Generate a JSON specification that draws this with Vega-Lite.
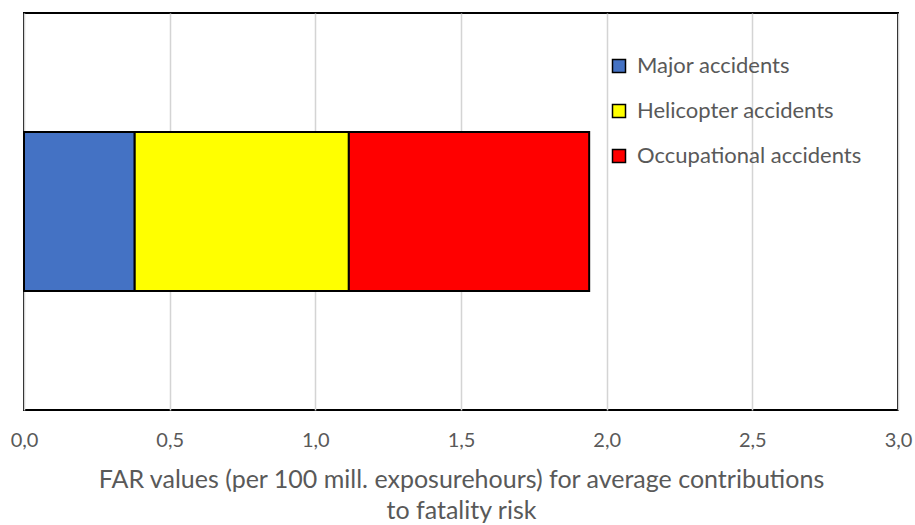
{
  "$schema": "https://vega.github.io/schema/vega-lite/v6.json",
  "width": 874,
  "height": 397,
  "autosize": "none",
  "padding": {"left": 24, "top": 13, "right": 17, "bottom": 115},
  "background": "white",
  "config": {
    "view": {"stroke": "black", "strokeWidth": 2},
    "font": "Lato"
  },
  "data": {
    "values": [
      {"category": "FAR", "type": "Major accidents", "value": 0.38, "order": 1},
      {"category": "FAR", "type": "Helicopter accidents", "value": 0.735, "order": 2},
      {"category": "FAR", "type": "Occupational accidents", "value": 0.825, "order": 3}
    ]
  },
  "mark": {"type": "bar", "stroke": "black", "strokeWidth": 2},
  "encoding": {
    "y": {
      "field": "category",
      "type": "nominal",
      "axis": null,
      "scale": {"paddingInner": 0, "paddingOuter": 0.75}
    },
    "x": {
      "field": "value",
      "type": "quantitative",
      "stack": "zero",
      "scale": {"domain": [0, 3], "nice": false},
      "axis": {
        "values": [0, 0.5, 1, 1.5, 2, 2.5, 3],
        "labelExpr": "replace(format(datum.value, '.1f'), '.', ',')",
        "labelFlush": false,
        "domain": false,
        "ticks": false,
        "grid": true,
        "gridColor": "#d4d4d4",
        "gridWidth": 1.5,
        "labelFontSize": 20,
        "labelColor": "#595959",
        "labelPadding": 20,
        "labelFont": "Lato",
        "title": ["FAR values (per 100 mill. exposurehours) for average contributions", "to fatality risk"],
        "titleFontSize": 25,
        "titleFontWeight": "normal",
        "titleColor": "#595959",
        "titleFont": "Lato",
        "titlePadding": 17,
        "titleLineHeight": 31
      }
    },
    "color": {
      "field": "type",
      "type": "nominal",
      "scale": {
        "domain": ["Major accidents", "Helicopter accidents", "Occupational accidents"],
        "range": ["#4472c4", "#ffff00", "#ff0000"]
      },
      "legend": {
        "orient": "none",
        "legendX": 584,
        "legendY": 42,
        "title": null,
        "symbolType": "square",
        "symbolSize": 169,
        "symbolStrokeColor": "black",
        "symbolStrokeWidth": 1.5,
        "symbolOpacity": 1,
        "labelFontSize": 22,
        "labelColor": "#595959",
        "labelFont": "Lato",
        "labelLimit": 400,
        "rowPadding": 23,
        "labelOffset": 7
      }
    },
    "order": {"field": "order", "type": "quantitative"}
  }
}
